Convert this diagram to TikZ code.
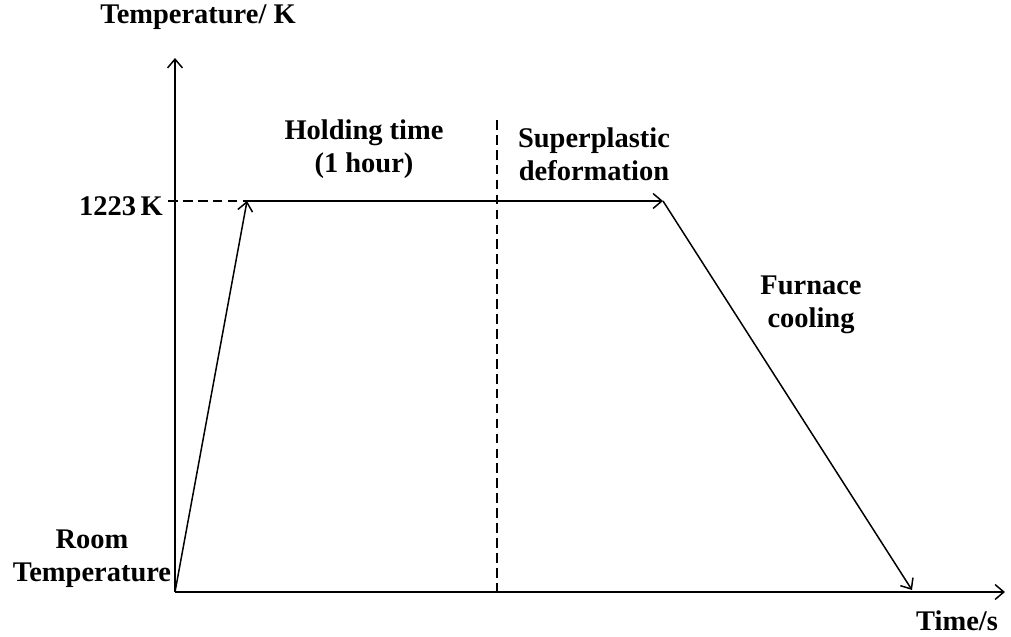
\documentclass[tikz,border=0pt]{standalone}
\usepackage{fontspec}
\setmainfont{Liberation Serif}
\usetikzlibrary{
  	positioning,
  	arrows.meta,
  	calc
  }
\tikzstyle{lbl}=[font=\fontsize{16.2}{19}\selectfont\bfseries,align=center,inner sep=1pt]
\tikzstyle{ax}=[line width=0.85pt,-{Straight Barb[length=5pt,width=8.5pt]}]
\tikzstyle{guide}=[line width=1.5pt,dash pattern=on 5.5pt off 3pt]

\begin{document}
\begin{tikzpicture}[x=0.02cm,y=-0.02cm]
\useasboundingbox (0,0) rectangle (1011,636);
\coordinate (o) at (175,592);
\coordinate (ytop) at (175,58);
\coordinate (xend) at (1005,592);
\coordinate (heat) at (247,201);
\coordinate (hold) at (663,201);
\coordinate (cool) at (912,590);
\coordinate (vtop) at (497,120);
\coordinate (vbot) at (497,592);
% axes
\draw [ax] (o) -- (ytop);
\draw [ax] (o) -- (xend);
% heating, holding, cooling
\draw [ax] (o) -- (heat);
\draw [ax] (heat) -- (hold);
\draw [ax] (hold) -- (cool);
% guides
\node [lbl,anchor=east] (tmax) at (165,206) {1223\,K};
\draw [guide] (168,201) -- (heat);
\draw [guide] (vtop) -- (vbot);
% labels
\node [lbl] (ylab) at (198,17) {Temperature/ K};
\node [lbl] (xlab) at (957,621) {Time/s};
\node [lbl] (room) at (92,559) {Room\\Temperature};
\node [lbl] (holdlab) at (364,149) {Holding time\\(1 hour)};
\node [lbl] (spd) at (594,154) {Superplastic\\deformation};
\node [lbl] (furn) at (811,305) {Furnace\\cooling};
\end{tikzpicture}
\end{document}
